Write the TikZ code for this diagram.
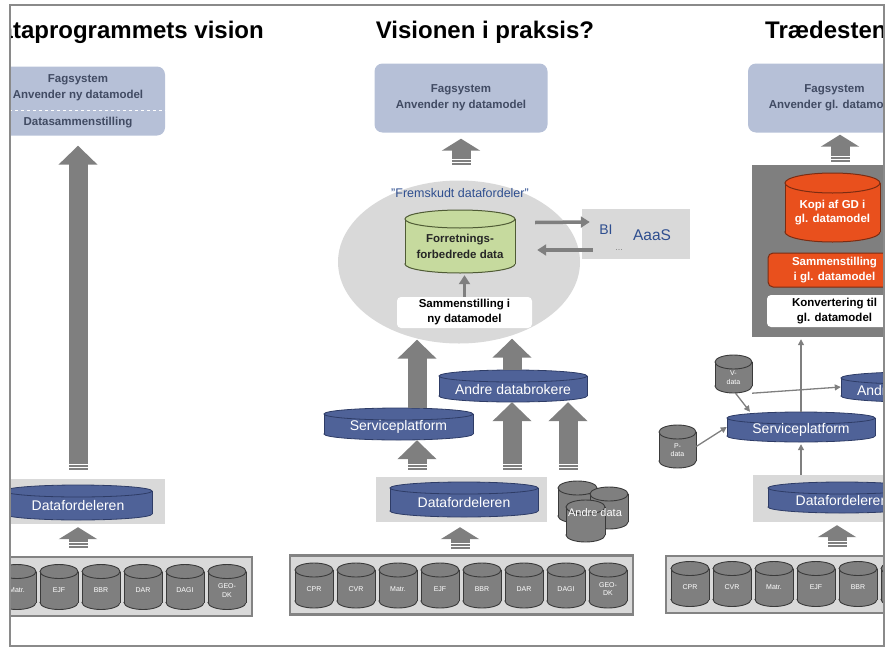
\documentclass[tikz,border=0pt]{standalone}
\usepackage{fontspec}
\setmainfont{Liberation Sans}
\usetikzlibrary{shapes.geometric,arrows.meta}

\definecolor{fagblue}{HTML}{B6C0D7}
\definecolor{fagtext}{HTML}{414B63}
\definecolor{dbblue}{HTML}{4F6298}
\definecolor{dbline}{HTML}{2E3C66}
\definecolor{bandgray}{HTML}{D9D9D9}
\definecolor{midgray}{HTML}{7F7F7F}
\definecolor{bargray}{HTML}{838383}
\definecolor{srcline}{HTML}{3A3A3A}
\definecolor{dbgreen}{HTML}{C6DA9E}
\definecolor{greenline}{HTML}{4F5B35}
\definecolor{orng}{HTML}{E9501D}
\definecolor{orngline}{HTML}{7B2C12}
\definecolor{fdblue}{HTML}{2E4E8F}
\definecolor{framegray}{HTML}{8A8A8A}

% cylinder: name, x, y, width, height, end radius, style, text
\newcommand\dbcyl[8]{%
  \filldraw[#7] (#2,#3+#5/2-#6) ellipse [x radius=#4/2, y radius=#6];
  \fill[#7, draw=none] (#2-#4/2,#3-#5/2+#6) rectangle (#2+#4/2,#3+#5/2-#6);
  \draw[#7, fill=none] (#2-#4/2,#3-#5/2+#6) -- (#2-#4/2,#3+#5/2-#6)
                       (#2+#4/2,#3-#5/2+#6) -- (#2+#4/2,#3+#5/2-#6);
  \filldraw[#7] (#2,#3-#5/2+#6) ellipse [x radius=#4/2, y radius=#6];
  \node[inner sep=0pt, minimum width=#4pt, minimum height=#5pt] (#1) at (#2,#3) {};
  \node[#7, fill=none, draw=none] (#1-t) at (#2,#3+#6/2) {#8};
}

% white breaks at the foot of a block arrow
\newcommand\stripes[1]{%
  \foreach \d in {2.5,5.5}
    \draw[white, line width=1pt] ([xshift=-9.5pt, yshift=\d pt]#1) -- ++(19,0);
}

\begin{document}
\begin{tikzpicture}[x=1pt, y=-1pt,
  every node/.style={font=\fontsize{11.5}{14}\selectfont, align=center, inner sep=0pt},
  title/.style={font=\fontsize{24}{28}\selectfont\bfseries, anchor=base},
  fagtxt/.style={text=fagtext, font=\fontsize{11.5}{16}\selectfont\bfseries},
  fagbox/.style={fagtxt, fill=fagblue, rounded corners=8pt, minimum width=173pt, minimum height=69pt},
  whitebox/.style={fill=white, rounded corners=4pt, text=black, font=\fontsize{11.5}{15}\selectfont\bfseries},
  orangebox/.style={fill=orng, draw=orngline, line width=1pt, rounded corners=5pt, text=white, font=\fontsize{11.5}{15}\selectfont\bfseries},
  band/.style={fill=bandgray, minimum width=171pt, minimum height=45pt},
  bar/.style={fill=bandgray, draw=bargray, line width=2.5pt, minimum width=343pt, minimum height=59pt},
  dbstyle/.style={fill=dbblue, draw=dbline, line width=0.8pt, text=white, font=\fontsize{14}{16}\selectfont},
  srcstyle/.style={fill=midgray, draw=srcline, line width=0.9pt, text=white, font=\fontsize{7}{8.5}\selectfont},
  greendb/.style={fill=dbgreen, draw=greenline, line width=1pt, text=black!85, font=\fontsize{11.5}{16}\selectfont\bfseries},
  orangedb/.style={fill=orng, draw=orngline, line width=1pt, text=white, font=\fontsize{11.5}{14}\selectfont\bfseries},
  bitxt/.style={text=fdblue, font=\fontsize{14}{16}\selectfont},
  bigarrow/.style={draw=midgray, line width=19pt, -{Triangle[width=38pt,length=19pt]}},
  smallarrow/.style={draw=midgray, line width=19pt, -{Triangle[width=38pt,length=12pt]}},
  medarrow/.style={draw=midgray, line width=3.5pt, -{Triangle[width=11pt,length=9pt]}},
  thinarrow/.style={draw=midgray, line width=1.3pt, -{Triangle[width=6pt,length=6pt]}},
]
\useasboundingbox (0,0) rectangle (889,648);

\begin{scope}
\clip (10,5) rectangle (884,646);

% Titles
\node[title, anchor=base east] (tL) at (264,38) {Grunddataprogrammets vision};
\node[title] (tM) at (485,38) {Visionen i praksis?};
\node[title, anchor=base west] (tR) at (765,38) {Trædestenen};

% ---- Left column ----
\node[fagbox, minimum width=174pt] (fagL) at (78,101) {};
\node[fagtxt] (fagLt) at (78,88) {Fagsystem\\Anvender ny datamodel};
\draw[white, dashed, line width=0.8pt] (fagL.west |- 0,110) -- (fagL.east |- 0,110);
\node[fagtxt] (samL) at (78,123) {Datasammenstilling};

\node[band, minimum width=174pt] (bandL) at (78,501.5) {};
\dbcyl{dfL}{78}{502.5}{148}{35}{6}{dbstyle}{Datafordeleren}

\node[bar] (barL) at (80.5,586.5) {};
\foreach \lab [count=\i] in {CPR,CVR,Matr.,EJF,BBR,DAR,DAGI,{GEO-\\DK}}{
  \dbcyl{sL\i}{-109+42*\i}{587}{38}{45}{7}{srcstyle}{\lab}
}

\coordinate (aL0) at ([yshift=9pt]bandL.north);
\draw[bigarrow] (aL0) -- ([yshift=-10pt]fagL.south);
\coordinate (aL1) at ([xshift=-2.5pt,yshift=8pt]barL.north);
\draw[smallarrow] (aL1) -- ([yshift=-3pt]bandL.south);

% ---- Middle column ----
\node[fagbox] (fagM) at (461,98) {Fagsystem\\Anvender ny datamodel};

\node[ellipse, fill=bandgray, minimum width=242pt, minimum height=163pt] (fd) at (459,262) {};
\node[text=fdblue, font=\fontsize{12.5}{14}\selectfont] (fdlab) at (460,193) {”Fremskudt datafordeler”};
\dbcyl{gDB}{460}{241.5}{110}{63}{9}{greendb}{Forretnings-\\forbedrede data}
\node[whitebox, minimum width=135pt, minimum height=31pt] (samM) at (464.5,312.5) {Sammenstilling i\\ny datamodel};

\node[fill=bandgray, minimum width=108pt, minimum height=50pt] (bi) at (636,234) {};
\node[bitxt] (biA) at (606,230) {BI};
\node[bitxt, font=\fontsize{15.5}{17}\selectfont] (biB) at (652,235) {AaaS};
\node[text=gray, font=\fontsize{9}{10}\selectfont] (biC) at (619,250) {...};

\dbcyl{adM}{513}{386}{148}{32}{6}{dbstyle}{Andre databrokere}
\dbcyl{spM}{398.5}{424}{149}{32}{6}{dbstyle}{Serviceplatform}

\node[band] (bandM) at (461.5,499.5) {};
\dbcyl{dfM}{464}{499.5}{148}{35}{6}{dbstyle}{Datafordeleren}

\dbcyl{ad1}{577.5}{502}{39}{42}{7}{srcstyle}{}
\dbcyl{ad2}{609}{508}{38}{42}{7}{srcstyle}{}
\dbcyl{ad3}{585.5}{521}{39}{42}{7}{srcstyle}{}
\node[text=white, font=\fontsize{11}{13}\selectfont] (andre) at (595,513) {Andre data};

\node[bar] (barM) at (461.5,585) {};
\foreach \lab [count=\i] in {CPR,CVR,Matr.,EJF,BBR,DAR,DAGI,{GEO-\\DK}}{
  \dbcyl{sM\i}{272+42*\i}{585.5}{38}{45}{7}{srcstyle}{\lab}
}

\coordinate (aM0) at (461,165);
\draw[smallarrow] (aM0) -- ([yshift=-6pt]fagM.south);
\draw[medarrow] (samM.north) -- ([yshift=-2pt]samM.north |- gDB.south);
\draw[medarrow] ([shift={(20pt,19pt)}]gDB.east) -- ([shift={(8pt,12pt)}]bi.west);
\draw[medarrow] ([shift={(11pt,-16pt)}]bi.west) -- ([shift={(22pt,-8.5pt)}]gDB.east);
\draw[bigarrow] ([xshift=18.5pt]spM.north) -- ([xshift=-42pt,yshift=4pt]fd.south);
\draw[bigarrow] ([xshift=-1pt]adM.north) -- ([xshift=53pt,yshift=5pt]fd.south);
\coordinate (aM1) at ([xshift=-44.5pt,yshift=7pt]bandM.north);
\draw[bigarrow] (aM1) -- ([xshift=18.5pt]spM.south);
\coordinate (aM2) at ([xshift=50.5pt,yshift=7pt]bandM.north);
\draw[bigarrow] (aM2) -- ([xshift=-1pt]adM.south);
\coordinate (aM3) at ([xshift=-9.5pt,yshift=11pt]ad1.north);
\draw[bigarrow] (aM3) -- (aM3 |- adM.south);
\coordinate (aM4) at ([xshift=-1.5pt,yshift=5pt]barM.north);
\draw[smallarrow] (aM4) -- ([xshift=-1.5pt,yshift=-5pt]bandM.south);

% ---- Right column ----
\node[fagbox] (fagR) at (834.5,98) {Fagsystem\\Anvender gl. datamodel};
\node[fill=midgray, minimum width=165pt, minimum height=172pt] (grayR) at (834.5,251) {};
\dbcyl{kopi}{832.5}{207.5}{95}{69}{10}{orangedb}{Kopi af GD i\\gl. datamodel}
\node[orangebox, minimum width=133pt, minimum height=34pt] (samR) at (834.5,270) {Sammenstilling\\i gl. datamodel};
\node[whitebox, minimum width=135pt, minimum height=32pt] (konR) at (834.5,311) {Konvertering til\\gl. datamodel};

\dbcyl{vdat}{733.5}{374}{37}{38}{7}{srcstyle}{V-\\data}
\dbcyl{adR}{915}{387}{148}{30}{6}{dbstyle}{Andre databrokere}
\dbcyl{spR}{801}{427}{148}{30}{6}{dbstyle}{Serviceplatform}
\dbcyl{pdat}{677.5}{446.5}{37}{43}{7}{srcstyle}{P-\\data}

\node[band, minimum height=47pt] (bandR) at (838.5,498.5) {};
\dbcyl{dfR}{842}{497.5}{148}{31}{6}{dbstyle}{Datafordeleren}

\node[bar, minimum height=57pt] (barR) at (837.5,584.5) {};
\foreach \lab [count=\i] in {CPR,CVR,Matr.,EJF,BBR,DAR,DAGI,{GEO-\\DK}}{
  \dbcyl{sR\i}{648+42*\i}{584}{38}{45}{7}{srcstyle}{\lab}
}

\coordinate (aR0) at ([xshift=5.5pt,yshift=3pt]grayR.north);
\draw[smallarrow] (aR0) -- ([xshift=5.5pt,yshift=-2pt]fagR.south);
\draw[thinarrow, shorten >=2pt] (spR.north) -- (spR.north |- grayR.south);
\draw[thinarrow, shorten >=2pt] (bandR.north -| spR.south) -- (spR.south);
\draw[thinarrow] (vdat.south east) -- (adR.west);
\draw[thinarrow] ([xshift=2pt]vdat.south) -- ([xshift=-51pt]spR.north);
\draw[thinarrow] (pdat.east) -- (spR.west);
\coordinate (aR1) at ([xshift=-0.5pt,yshift=8pt]barR.north);
\draw[smallarrow] (aR1) -- ([xshift=-1.5pt,yshift=-3pt]bandR.south);

% breaks at the arrow feet
\foreach \c in {aL0,aL1,aM0,aM1,aM2,aM3,aM4,aR0,aR1}{
  \stripes{\c}
}
\end{scope}

\draw[framegray, line width=2pt] (10,5) rectangle (884,646);
\end{tikzpicture}
\end{document}
